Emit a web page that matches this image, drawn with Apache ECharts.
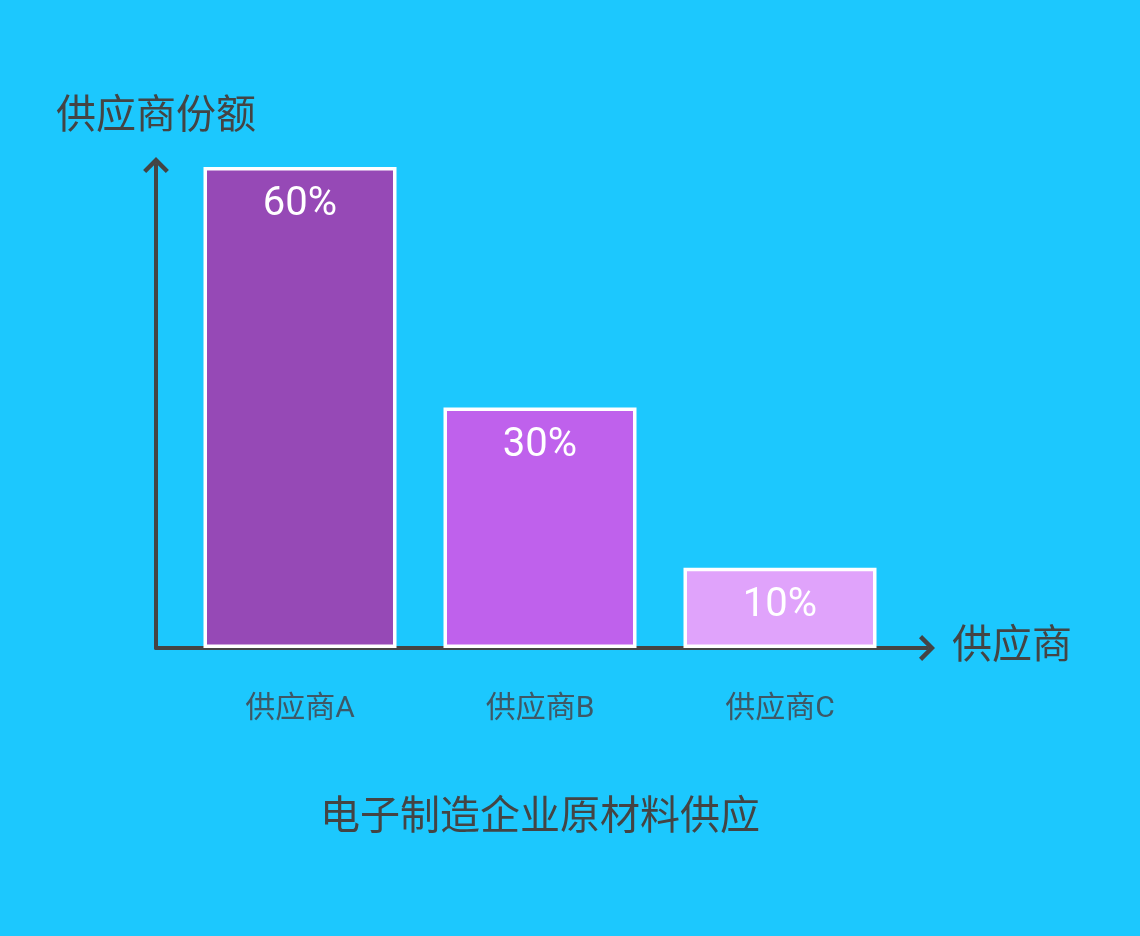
<!DOCTYPE html>
<html>
<head>
<meta charset="utf-8">
<script src="https://cdn.jsdelivr.net/npm/echarts@6/dist/echarts.min.js"></script>
<style>
  html, body { margin: 0; padding: 0; background: #1cc8fe; }
  #chart { width: 1140px; height: 936px; }
</style>
</head>
<body>
<div id="chart"></div>
<script>
var suppliers = ['供应商A', '供应商B', '供应商C'];
var shares = [60, 30, 10];
var barColors = ['#9649b6', '#bf61ec', '#e0a3fb'];

var chevron = 'path://M10,0 L20,10 L17.6,12.4 L10,4.8 L2.4,12.4 L0,10 Z';
var font = 'Roboto, "Noto Sans CJK SC", sans-serif';

var myChart = echarts.init(document.getElementById('chart'));
myChart.setOption({
    backgroundColor: '#1cc8fe',
    textStyle: { fontFamily: font },
    title: {
        text: '电子制造企业原材料供应',
        left: 535,
        top: 794,
        textAlign: 'center',
        textStyle: { fontSize: 40, fontWeight: 'normal', color: '#444', fontFamily: font }
    },
    grid: [
        { left: 180, right: 240, top: 167, bottom: 288 },
        { left: 156, right: 213, top: 165, bottom: 288 }
    ],
    xAxis: [
        {
            type: 'category',
            gridIndex: 0,
            data: suppliers,
            axisLine: { show: false },
            axisTick: { show: false },
            axisLabel: { margin: 46, fontSize: 30, color: '#3e5866', fontFamily: font }
        },
        {
            type: 'value',
            gridIndex: 1,
            min: 0,
            max: 1,
            name: '供应商',
            nameLocation: 'end',
            nameGap: 25,
            nameTextStyle: { fontSize: 40, color: '#444', align: 'left', verticalAlign: 'middle', fontFamily: font },
            splitLine: { show: false },
            axisTick: { show: false },
            axisLabel: { show: false },
            axisLine: {
                show: true,
                lineStyle: { color: '#444', width: 4 },
                symbol: ['none', chevron],
                symbolSize: [30, 16]
            }
        }
    ],
    yAxis: [
        {
            type: 'value',
            gridIndex: 0,
            min: 0,
            max: 60,
            show: false
        },
        {
            type: 'value',
            gridIndex: 1,
            min: 0,
            max: 1,
            name: '供应商份额',
            nameLocation: 'end',
            nameGap: 47,
            nameTextStyle: { fontSize: 40, color: '#444', align: 'center', verticalAlign: 'middle', fontFamily: font },
            splitLine: { show: false },
            axisTick: { show: false },
            axisLabel: { show: false },
            axisLine: {
                show: true,
                lineStyle: { color: '#444', width: 4 },
                symbol: ['none', chevron],
                symbolSize: [30, 16]
            }
        }
    ],
    series: [
        {
            type: 'bar',
            xAxisIndex: 0,
            yAxisIndex: 0,
            barWidth: 193,
            data: shares.map(function (v, i) {
                return { value: v, itemStyle: { color: barColors[i] } };
            }),
            itemStyle: { borderColor: '#fff', borderWidth: 3.5 },
            label: {
                show: true,
                position: 'insideTop',
                distance: 18,
                fontSize: 40,
                color: '#fff',
                fontFamily: font,
                formatter: '{c}%'
            }
        }
    ]
});
</script>
</body>
</html>
